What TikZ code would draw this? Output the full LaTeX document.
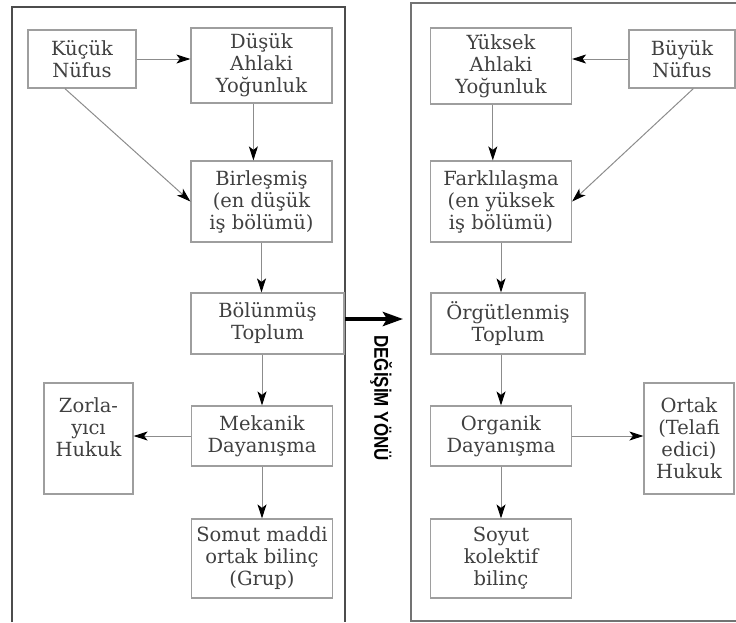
\documentclass[tikz,border=0pt]{standalone}
\usepackage{fontspec}
\setmainfont{DejaVu Serif}
\newfontfamily\headfont{Liberation Sans}
\usetikzlibrary{arrows.meta}

\definecolor{boxline}{gray}{0.62}
\definecolor{arrowline}{gray}{0.55}
\definecolor{boxtext}{gray}{0.25}

\tikzset{
  box/.style={draw=boxline, line width=1.2pt, text=boxtext, align=center,
    inner sep=2pt, minimum width=141pt,
    font=\fontsize{19.5}{22}\selectfont},
  flow/.style={draw=arrowline, line width=1pt,
    -{Stealth[length=14pt, width=9pt, inset=3.5pt, color=black]}},
  panel/.style={draw=black!70, line width=1.5pt},
}

\begin{document}
\begin{tikzpicture}[x=1pt, y=-1pt]
    \useasboundingbox (0, 0) rectangle (736, 622);

    \draw[panel] (12, 622) -- (12, 7) -- (345, 7) -- (345, 622);
    \draw[panel, draw=black!55] (736, 3) -- (411, 3) -- (411, 621) -- (736, 621);

    \node[box, minimum width=108pt, minimum height=58pt] (Kucuk) at (82, 59) {Küçük\\Nüfus};
    \node[box, minimum height=75pt] (Dusuk) at (261.5, 65.5) {Düşük\\Ahlaki\\Yoğunluk};
    \node[box, minimum height=81pt] (Birlesmis) at (261.5, 201.5) {Birleşmiş\\(en düşük\\iş bölümü)};
    \node[box, minimum width=153pt, minimum height=61pt] (Bolunmus) at (267.5, 323.5) {Bölünmüş\\Toplum};
    \node[box, minimum height=60pt] (Mekanik) at (262, 436) {Mekanik\\Dayanışma};
    \node[box, minimum width=89pt, minimum height=111pt] (Zorlayici) at (88.5, 438.5) {Zorla-\\yıcı\\Hukuk\\\mbox{}};
    \node[box, minimum height=79pt] (Somut) at (262, 558.5) {Somut maddi\\ortak bilinç\\(Grup)};

    \node[box, minimum height=76pt] (Yuksek) at (501, 66) {Yüksek\\Ahlaki\\Yoğunluk};
    \node[box, minimum width=106pt, minimum height=58pt] (Buyuk) at (682, 59) {Büyük\\Nüfus};
    \node[box, minimum height=81pt] (Farkli) at (501, 201.5) {Farklılaşma\\(en yüksek\\iş bölümü)};
    \node[box, minimum width=154pt, minimum height=61pt] (Orgut) at (508, 323.5) {Örgütlenmiş\\Toplum};
    \node[box, minimum height=60pt] (Organik) at (501, 436) {Organik\\Dayanışma};
    \node[box, minimum width=90pt, minimum height=111pt] (Ortak) at (689, 438.5) {Ortak\\(Telafi\\edici)\\Hukuk};
    \node[box, minimum height=79pt] (Soyut) at (501, 558.5) {Soyut\\kolektif\\bilinç};

    \draw[flow] (Kucuk.east) -- (Kucuk.east -| Dusuk.west);
    \draw[flow] (Kucuk.240) -- (Birlesmis.west);
    \draw[flow] (Dusuk.258) -- (Dusuk.258 |- Birlesmis.north);
    \draw[flow] (Birlesmis.south) -- (Birlesmis.south |- Bolunmus.north);
    \draw[flow] (Mekanik.north |- Bolunmus.south) -- (Mekanik.north);
    \draw[flow] (Mekanik.west) -- (Mekanik.west -| Zorlayici.east);
    \draw[flow] (Mekanik.south) -- (Somut.north);

    \draw[flow] (Buyuk.west) -- (Buyuk.west -| Yuksek.east);
    \draw[flow] (Buyuk.291) -- (Farkli.east);
    \draw[flow] (Yuksek.258) -- (Yuksek.258 |- Farkli.north);
    \draw[flow] (Farkli.south) -- (Farkli.south |- Orgut.north);
    \draw[flow] (Organik.north |- Orgut.south) -- (Organik.north);
    \draw[flow] (Organik.east) -- (Organik.east -| Ortak.west);
    \draw[flow] (Organik.south) -- (Soyut.north);

    \coordinate (From) at (345, 319);
    \coordinate (To) at (403, 319);
    \draw[line width=4.5pt, -{Stealth[length=20pt, width=14pt, inset=4pt]}] (From) -- (To);
    \node[rotate=-90, font=\headfont\bfseries\fontsize{20}{22}\selectfont] (Yon) at (381, 398) {\scalebox{0.85}[1]{DEĞİŞİM YÖNÜ}};
\end{tikzpicture}
\end{document}
